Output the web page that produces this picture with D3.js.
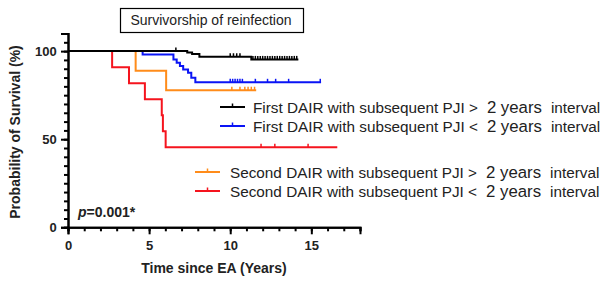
<!DOCTYPE html>
<html>
<head>
<meta charset="utf-8">
<script src="https://cdn.jsdelivr.net/npm/d3@7"></script>
<style>
  body { margin: 0; background: #fff; }
  text { font-family: "Liberation Sans", Arial, sans-serif; }
</style>
</head>
<body>
<div id="container"></div>
<script>
/* CONSTANTS AND GLOBALS */
const width = 607,
    height = 282,
    margin = { left: 68, right: 247, top: 33, bottom: 55 };

/* DATA */
const blackTimes = [0, 7.35, 7.65, 8.1, 11.3, 14.2]
const blackSurv = [100, 99.2, 98.3, 96.8, 95.3, 95.3]
const blackCensor = [6.65, 10.0, 10.2, 10.4, 10.6, 11.4, 11.55, 11.7, 11.85, 12.0, 12.15, 12.3, 12.45, 12.6, 12.75, 12.9, 13.05, 13.2, 13.35, 13.5, 13.65, 13.8, 13.95, 14.1]

const blueTimes = [0, 4.6, 6.5, 6.7, 6.9, 7.1, 7.4, 7.6, 7.85, 15.6]
const blueSurv = [100, 98.1, 95.3, 93.4, 91.5, 89.6, 87.7, 84.9, 82.3, 82.3]
const blueCensor = [10.0, 10.15, 10.3, 10.45, 10.6, 10.75, 11.55, 12.3, 12.8, 13.6, 15.55]

const orangeTimes = [0, 4.17, 6.05, 11.6]
const orangeSurv = [100, 88.9, 77.8, 77.8]
const orangeCensor = [10.1, 10.6, 10.9, 11.1, 11.3, 11.5]

const redTimes = [0, 2.72, 3.76, 4.74, 5.78, 5.85, 6.02, 16.6]
const redSurv = [100, 90.9, 81.8, 72.7, 63.6, 54.5, 45.5, 45.5]
const redCensor = [11.9, 12.75, 14.8]

const legendLabels = [
    ["First DAIR with subsequent PJI >", "2 years", "interval"],
    ["First DAIR with subsequent PJI <", "2 years", "interval"],
    ["Second DAIR with subsequent PJI >", "2 years", "interval"],
    ["Second DAIR with subsequent PJI <", "2 years", "interval"]
]
const colors = ["#000000", "#0a14f5", "#ff8c1a", "#f5141e"]

const xTicks = [0, 5, 10, 15]
const yTicks = [0, 50, 100]

const svg = d3.select("#container")
    .append("svg")
    .attr("width", width)
    .attr("height", height)

// SCALES
const xScale = d3.scaleLinear()
    .domain([0, 18])
    .range([margin.left, width - margin.right])

const yScale = d3.scaleLinear()
    .domain([0, 110])
    .range([227.3, 33.5])

// AXES
const xAxis = svg.append("g")
    .attr("transform", "translate(0," + yScale(0) + ")")
    .call(d3.axisBottom(xScale).tickValues(d3.range(0, 19, 1)).tickSize(4).tickFormat(""))
xAxis.append("g")
    .call(d3.axisBottom(xScale).tickValues(xTicks).tickSize(7).tickFormat(d3.format("d")))
xAxis.selectAll("path.domain").attr("stroke-width", 2)
xAxis.selectAll("line").attr("stroke-width", 2)
xAxis.selectAll("text")
    .style("font-size", "13px")
    .style("font-weight", "bold")
    .attr("fill", "#222")
    .attr("dy", "0.95em")

const yAxis = svg.append("g")
    .attr("transform", "translate(" + xScale(0) + ",0)")
    .call(d3.axisLeft(yScale).tickValues(d3.range(0, 111, 5)).tickSize(4).tickFormat(""))
yAxis.append("g")
    .call(d3.axisLeft(yScale).tickValues(yTicks).tickSize(7).tickFormat(d3.format("d")))
yAxis.selectAll("path.domain").attr("stroke-width", 2)
yAxis.selectAll("line").attr("stroke-width", 2)
yAxis.selectAll("text")
    .style("font-size", "13px")
    .style("font-weight", "bold")
    .attr("fill", "#222")
    .attr("dx", "-0.1em")

// LABELS
svg.append("text")
    .attr("x", (xScale(0) + xScale(18)) / 2)
    .attr("y", 273)
    .attr("text-anchor", "middle")
    .style("font-size", "14px")
    .style("font-weight", "bold")
    .attr("fill", "#222")
    .text("Time since EA (Years)")

svg.append("text")
    .attr("transform", "rotate(-90)")
    .attr("x", -132)
    .attr("y", 20)
    .attr("text-anchor", "middle")
    .style("font-size", "14px")
    .style("font-weight", "bold")
    .attr("fill", "#222")
    .text("Probability of Survival (%)")

// title box
svg.append("rect")
    .attr("x", 120.5)
    .attr("y", 8.5)
    .attr("width", 183)
    .attr("height", 24)
    .attr("fill", "white")
    .attr("stroke", "black")
    .attr("stroke-width", 1.2)
svg.append("text")
    .attr("x", 211)
    .attr("y", 25)
    .attr("text-anchor", "middle")
    .style("font-size", "14px")
    .attr("fill", "#222")
    .text("Survivorship of reinfection")

// p value
const pText = svg.append("text")
    .attr("x", 78)
    .attr("y", 217)
    .style("font-size", "14px")
    .style("font-weight", "bold")
    .attr("fill", "#222")
pText.append("tspan").style("font-style", "italic").text("p")
pText.append("tspan").text("=0.001*")

// CURVES
const series = [
    { times: redTimes, surv: redSurv, censor: redCensor, color: colors[3] },
    { times: orangeTimes, surv: orangeSurv, censor: orangeCensor, color: colors[2] },
    { times: blueTimes, surv: blueSurv, censor: blueCensor, color: colors[1] },
    { times: blackTimes, surv: blackSurv, censor: blackCensor, color: colors[0] }
]

const line = d3.line()
    .x(d => xScale(d[0]))
    .y(d => yScale(d[1]))
    .curve(d3.curveStepAfter)

// value of a step curve at time t
function survAt(s, t) {
    let v = s.surv[0]
    s.times.forEach((tt, i) => { if (tt <= t) v = s.surv[i] })
    return v
}

series.forEach(s => {
    const pts = s.times.map((t, i) => [t, s.surv[i]])
    svg.append("path")
        .attr("d", line(pts))
        .attr("fill", "none")
        .attr("stroke", s.color)
        .attr("stroke-width", 2)

    svg.selectAll(null)
        .data(s.censor)
        .join("line")
        .attr("x1", d => xScale(d))
        .attr("x2", d => xScale(d))
        .attr("y1", d => yScale(survAt(s, d)))
        .attr("y2", d => yScale(survAt(s, d)) - 3.5)
        .attr("stroke", s.color)
        .attr("stroke-width", 1.5)
})

// LEGEND
const legendRows = [
    { y: 113, x0: 220, x1: 245, tx: 253 },
    { y: 132, x0: 220, x1: 245, tx: 253 },
    { y: 178, x0: 195, x1: 220, tx: 230 },
    { y: 197, x0: 195, x1: 220, tx: 230 }
]

legendRows.forEach((r, i) => {
    const ly = r.y - 6
    svg.append("line")
        .attr("x1", r.x0).attr("x2", r.x1)
        .attr("y1", ly).attr("y2", ly)
        .attr("stroke", colors[i])
        .attr("stroke-width", 2)
    svg.append("line")
        .attr("x1", (r.x0 + r.x1) / 2).attr("x2", (r.x0 + r.x1) / 2)
        .attr("y1", ly).attr("y2", ly - 3.5)
        .attr("stroke", colors[i])
        .attr("stroke-width", 1.5)
    const t = svg.append("text")
        .attr("x", r.tx)
        .attr("y", r.y)
        .style("font-size", "15.3px")
        .attr("fill", "#222")
    t.append("tspan").text(legendLabels[i][0])
    t.append("tspan").attr("dx", 9).style("font-size", "16.8px").text(legendLabels[i][1])
    t.append("tspan").attr("dx", 9).text(legendLabels[i][2])
})
</script>
</body>
</html>
